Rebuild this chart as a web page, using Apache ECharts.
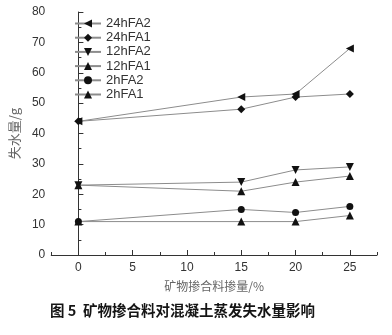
<!DOCTYPE html>
<html>
<head>
<meta charset="utf-8">
<script src="https://cdn.jsdelivr.net/npm/echarts@6/dist/echarts.min.js"></script>
<style>
  html, body { margin: 0; padding: 0; background: #fff; }
  #chart { width: 392px; height: 335px; }
</style>
</head>
<body>
<div id="chart"></div>
<script>
// Admixture dosage (%) on the x axis
var dosage = [0, 15, 20, 25];

// Evaporated water loss (g) for each curing age / admixture
var s24hFA2 = [44, 52, 53, 68];
var s24hFA1 = [44, 48, 52, 53];
var s12hFA2 = [23, 24, 28, 29];
var s12hFA1 = [23, 21, 24, 26];
var s2hFA2  = [11, 15, 14, 16];
var s2hFA1  = [11, 11, 11, 13];

var seriesNames = ['24hFA2', '24hFA1', '12hFA2', '12hFA1', '2hFA2', '2hFA1'];
var xMajorTicks = [0, 5, 10, 15, 20, 25];
var xMinorTicks = [-2.5, 2.5, 7.5, 12.5, 17.5, 22.5, 27.5];

var seriesValues = [s24hFA2, s24hFA1, s12hFA2, s12hFA1, s2hFA2, s2hFA1];
var symbols = ['triangle', 'diamond', 'triangle', 'triangle', 'circle', 'triangle'];
var rotations = [90, 0, 180, 0, 0, 0];
var sizes = [8, 8, 8, 8, 7, 8];

function pairs(vals) {
  return dosage.map(function (d, i) { return [d, vals[i]]; });
}

var chart = echarts.init(document.getElementById('chart'));

var series = seriesNames.map(function (name, i) {
  return {
    name: name,
    type: 'line',
    data: pairs(seriesValues[i]),
    symbol: symbols[i],
    symbolRotate: rotations[i],
    symbolSize: sizes[i],
    lineStyle: { color: '#8c8c8c', width: 1 },
    itemStyle: { color: '#111' },
    emphasis: { disabled: true },
    animation: false
  };
});

chart.setOption({
  animation: false,
  textStyle: { fontFamily: 'Arial, Liberation Sans, sans-serif' },
  title: {
    text: '图 5  矿物掺合料对混凝土蒸发失水量影响',
    left: 45,
    top: 298,
    textStyle: {
      fontFamily: 'Noto Sans CJK SC',
      fontSize: 14.5,
      fontWeight: 'bold',
      color: '#151515'
    }
  },
  legend: {
    orient: 'vertical',
    left: 74,
    top: 17,
    padding: 0,
    itemWidth: 26,
    itemHeight: 10,
    itemGap: 1.2,
    data: seriesNames,
    textStyle: { fontSize: 13, color: '#333', fontFamily: 'Arial, Liberation Sans, sans-serif' }
  },
  grid: { left: 47, right: 15, top: 12, bottom: 80 },
  xAxis: [{
    type: 'value',
    min: -2.5,
    max: 27.5,
    interval: 2.5,
    name: '矿物掺合料掺量/%',
    nameLocation: 'middle',
    nameGap: 25,
    nameTextStyle: { fontFamily: 'Noto Sans CJK SC', fontSize: 12, color: '#666' },
    axisLine: { lineStyle: { color: '#333', width: 1 } },
    axisTick: { show: true, inside: true, length: 5, customValues: xMajorTicks, lineStyle: { color: '#333' } },
    axisLabel: {
      customValues: xMajorTicks,
      color: '#333',
      fontSize: 12,
      margin: 7
    },
    splitLine: { show: false }
  }, {
    type: 'value',
    position: 'bottom',
    min: -2.5,
    max: 27.5,
    interval: 2.5,
    axisLine: { show: false },
    axisTick: { show: true, inside: true, length: 3, customValues: xMinorTicks, lineStyle: { color: '#333' } },
    axisLabel: { show: false },
    splitLine: { show: false }
  }],
  yAxis: {
    type: 'value',
    min: 0,
    max: 80,
    interval: 10,
    name: '失水量/g',
    nameLocation: 'middle',
    nameGap: 20,
    nameTextStyle: { fontFamily: 'Noto Sans CJK SC', fontSize: 13, color: '#666' },
    axisLine: { show: true, lineStyle: { color: '#333', width: 1 } },
    axisTick: { show: true, inside: true, length: 5, lineStyle: { color: '#333' } },
    minorTick: { show: true, splitNumber: 2, length: 3, lineStyle: { color: '#333' } },
    axisLabel: { color: '#333', fontSize: 12, margin: 6 },
    splitLine: { show: false },
    minorSplitLine: { show: false }
  },
  series: series
});
</script>
</body>
</html>
